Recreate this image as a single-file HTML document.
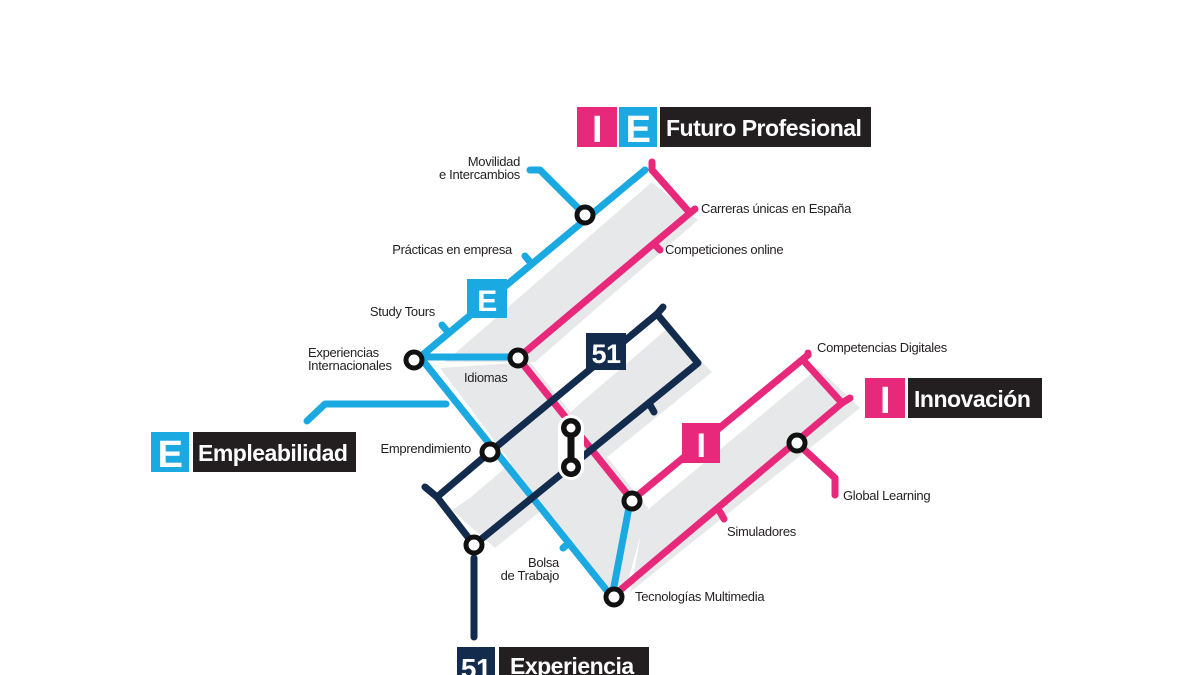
<!DOCTYPE html>
<html><head><meta charset="utf-8"><style>
html,body{margin:0;padding:0;background:#fff;}
svg{display:block;}
text{font-family:"Liberation Sans",sans-serif;}
.l{font-size:13px;fill:#231f20;letter-spacing:-0.3px;}
.t{font-size:23px;font-weight:bold;fill:#fff;letter-spacing:-0.5px;}
</style></head><body>
<svg width="1200" height="675" viewBox="0 0 1200 675" xmlns="http://www.w3.org/2000/svg">
<g fill="#e7e8e9">
<polygon points="652,182 698,220 535,362 445,362"/>
<polygon points="440,368 530,362 648,508 625,592 608,592"/>
<polygon points="668,328 712,372 495,548 452,510 470,498"/>
<polygon points="645,512 818,368 860,408 630,592"/>
</g>
<g fill="none" stroke-linecap="round" stroke-linejoin="round" stroke-width="7">
<g stroke="#1aa9e1">
<polyline points="645,170 420,357"/>
<polyline points="530,170 540,170 583,213"/>
<polyline points="420,357 515,357"/>
<polyline points="420,357 612,597"/>
<polyline points="307,421 325,404 446,404"/>
<polyline points="612,597 630,502"/>
<line x1="530" y1="262" x2="525" y2="256"/>
<line x1="447" y1="331" x2="442" y2="325"/>
<line x1="563" y1="548" x2="569" y2="543"/>
</g>
<g stroke="#e8287a">
<polyline points="652,162 652,170 690,213 518,358"/>
<line x1="690" y1="213" x2="695" y2="209"/>
<line x1="655" y1="245" x2="660" y2="250"/>
<polyline points="518,358 632,500"/>
<polyline points="632,500 808,355"/>
<line x1="808" y1="355" x2="808" y2="353"/>
<polyline points="803,360 842,403 612,597"/>
<line x1="842" y1="403" x2="850" y2="398"/>
<polyline points="797,443 835,478 835,495"/>
<line x1="720" y1="512" x2="724" y2="519"/>
</g>
<g stroke="#132b4d">
<polyline points="663,307 657,314 698,363 474,545"/>
<polyline points="657,314 490,452 437,497"/>
<polyline points="425,487 437,497 474,545"/>
<polyline points="474,558 474,637"/>
<line x1="650" y1="405" x2="654" y2="412"/>
</g>
</g>
<rect x="467" y="279" width="40" height="39" fill="#1aa9e1"/>
<text x="487" y="311" class="t" text-anchor="middle" style="font-size:30px">E</text>
<rect x="586" y="333" width="40" height="37" fill="#132b4d"/>
<text x="606" y="363" class="t" text-anchor="middle" style="font-size:27px">51</text>
<rect x="682" y="423" width="38" height="40" fill="#e8287a"/>
<text x="701" y="457" class="t" text-anchor="middle" style="font-size:34px">I</text>
<!-- interchange -->
<line x1="571" y1="428" x2="571" y2="467" stroke="#fff" stroke-width="26" stroke-linecap="round"/>
<line x1="571" y1="428" x2="571" y2="467" stroke="#111" stroke-width="7"/>
<circle cx="571" cy="428" r="10" fill="#111"/>
<circle cx="571" cy="467" r="10" fill="#111"/>
<circle cx="571" cy="428" r="4.5" fill="#fff"/>
<circle cx="571" cy="467" r="4.5" fill="#fff"/>
<g fill="#fff" stroke="#111" stroke-width="5">
<circle cx="585" cy="215" r="8"/>
<circle cx="414" cy="360" r="8"/>
<circle cx="518" cy="358" r="8"/>
<circle cx="490" cy="452" r="8"/>
<circle cx="474" cy="545" r="8"/>
<circle cx="632" cy="501" r="8"/>
<circle cx="797" cy="443" r="8"/>
<circle cx="614" cy="597" r="8"/>
</g>
<rect x="577" y="107" width="40" height="40" fill="#e8287a"/>
<text x="597" y="142" class="t" text-anchor="middle" style="font-size:38px">I</text>
<rect x="619" y="107" width="38" height="40" fill="#1aa9e1"/>
<text x="638" y="142" class="t" text-anchor="middle" style="font-size:38px">E</text>
<rect x="660" y="107" width="211" height="40" fill="#231f20"/>
<text x="666" y="136" class="t">Futuro Profesional</text>

<rect x="151" y="432" width="38" height="40" fill="#1aa9e1"/>
<text x="170" y="467" class="t" text-anchor="middle" style="font-size:38px">E</text>
<rect x="193" y="432" width="163" height="40" fill="#231f20"/>
<text x="198" y="461" class="t">Empleabilidad</text>

<rect x="865" y="378" width="40" height="40" fill="#e8287a"/>
<text x="885" y="413" class="t" text-anchor="middle" style="font-size:38px">I</text>
<rect x="908" y="378" width="134" height="40" fill="#231f20"/>
<text x="914" y="407" class="t">Innovación</text>

<rect x="457" y="647" width="38" height="40" fill="#132b4d"/>
<text x="476" y="678" class="t" text-anchor="middle" style="font-size:28px">51</text>
<rect x="499" y="647" width="150" height="40" fill="#231f20"/>
<text x="510" y="674" class="t">Experiencia</text>
<text class="l" x="520" y="166" text-anchor="end">Movilidad</text>
<text class="l" x="520" y="179" text-anchor="end">e Intercambios</text>
<text class="l" x="701" y="213">Carreras únicas en España</text>
<text class="l" x="512" y="254" text-anchor="end">Prácticas en empresa</text>
<text class="l" x="665" y="254">Competiciones online</text>
<text class="l" x="435" y="316" text-anchor="end">Study Tours</text>
<text class="l" x="308" y="357">Experiencias</text>
<text class="l" x="308" y="370">Internacionales</text>
<text class="l" x="464" y="382">Idiomas</text>
<text class="l" x="817" y="352">Competencias Digitales</text>
<text class="l" x="471" y="453" text-anchor="end">Emprendimiento</text>
<text class="l" x="843" y="500">Global Learning</text>
<text class="l" x="727" y="536">Simuladores</text>
<text class="l" x="559" y="567" text-anchor="end">Bolsa</text>
<text class="l" x="559" y="580" text-anchor="end">de Trabajo</text>
<text class="l" x="635" y="601">Tecnologías Multimedia</text>
</svg>
</body></html>
